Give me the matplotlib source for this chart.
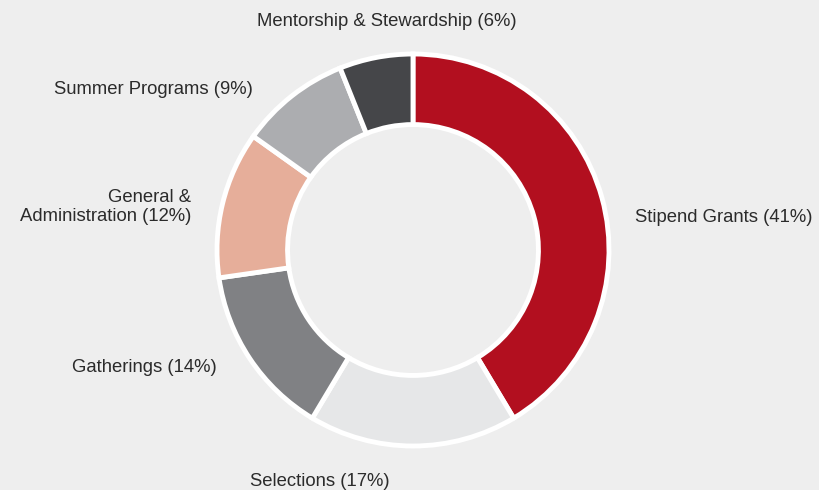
import matplotlib.pyplot as plt

plt.rcParams["font.family"] = ["Liberation Sans", "DejaVu Sans"]

labels = ["Stipend Grants", "Selections", "Gatherings",
          "General &\nAdministration", "Summer Programs",
          "Mentorship & Stewardship"]
shares = [41, 17, 14, 12, 9, 6]
colors = ["#b20f1f", "#e6e7e8", "#808184", "#e6ae9a", "#acadb0", "#454649"]

# label anchor (x, y in pixel space from bottom-left), alignment
label_pos = [
    (635, 273, "left"),
    (250, 8, "left"),
    (217, 122, "right"),
    (191, 283, "right"),
    (253, 401, "right"),
    (387, 469, "center"),
]

BG = "#eeeeee"
fig = plt.figure(figsize=(8.19, 4.9), dpi=100, facecolor=BG)
ax = fig.add_axes([0, 0, 1, 1])
ax.set_facecolor(BG)
ax.set_aspect("equal")
ax.axis("off")

R = 196
ax.pie(shares, colors=colors, startangle=90, counterclock=False,
       radius=R, center=(413, 240),
       wedgeprops=dict(width=0.36 * R, edgecolor="white", linewidth=3.5))
ax.set_xlim(0, 819)
ax.set_ylim(0, 490)

for lab, val, (x, y, ha) in zip(labels, shares, label_pos):
    ax.text(x, y, f"{lab} ({val}%)", ha=ha, va="center", fontsize=13.3,
            color="#2b2b2b", linespacing=1.1)

fig.savefig("out.png", dpi=100, facecolor=BG)
